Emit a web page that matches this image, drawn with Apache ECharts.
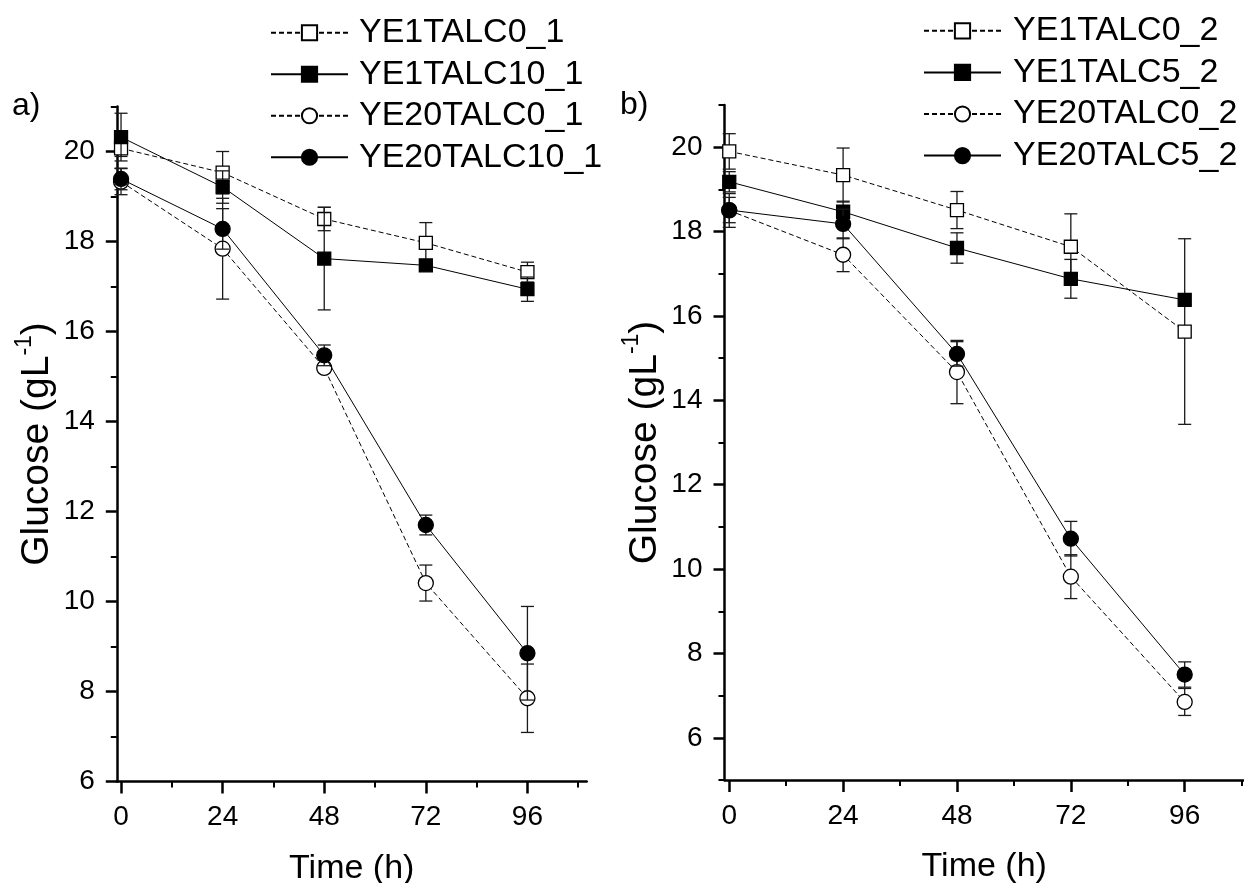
<!DOCTYPE html>
<html>
<head>
<meta charset="utf-8">
<script src="https://cdn.jsdelivr.net/npm/echarts@6/dist/echarts.min.js"></script>
<style>
html,body{margin:0;padding:0;background:#fff;}
#chart{width:1244px;height:883px;}
</style>
</head>
<body>
<div id="chart"></div>
<script>
// ---------- data ----------
const hours = [0, 24, 48, 72, 96];
const xTickLabels = [0, 24, 48, 72, 96];
const xMinorTicks = [12, 36, 60, 84, 108];

const namesA = ['YE1TALC0_1', 'YE1TALC10_1', 'YE20TALC0_1', 'YE20TALC10_1'];
const ye1talc0_1 = [20.07, 19.53, 18.50, 17.97, 17.32];
const ye1talc0_1Err = [0.18, 0.47, 0.26, 0.45, 0.22];
const ye1talc10_1 = [20.32, 19.21, 17.62, 17.47, 16.94];
const ye1talc10_1Err = [0.53, 0.36, 1.14, 0.10, 0.27];
const ye20talc0_1 = [19.33, 17.84, 15.19, 10.41, 7.85];
const ye20talc0_1Err = [0.29, 1.12, 0.10, 0.40, 0.76];
const ye20talc10_1 = [19.39, 18.28, 15.47, 11.70, 8.85];
const ye20talc10_1Err = [0.24, 0.45, 0.23, 0.22, 1.04];

const namesB = ['YE1TALC0_2', 'YE1TALC5_2', 'YE20TALC0_2', 'YE20TALC5_2'];
const ye1talc0_2 = [19.90, 19.34, 18.51, 17.64, 15.63];
const ye1talc0_2Err = [0.42, 0.64, 0.44, 0.78, 2.20];
const ye1talc5_2 = [19.18, 18.47, 17.61, 16.88, 16.38];
const ye1talc5_2Err = [0.24, 0.25, 0.36, 0.46, 0.10];
const ye20talc0_2 = [18.50, 17.45, 14.67, 9.82, 6.85];
const ye20talc0_2Err = [0.40, 0.40, 0.75, 0.52, 0.32];
const ye20talc5_2 = [18.51, 18.18, 15.10, 10.72, 7.50];
const ye20talc5_2Err = [0.30, 0.35, 0.29, 0.41, 0.30];

const yTickLabels = [6, 8, 10, 12, 14, 16, 18, 20];
const yMinorA = [7, 9, 11, 13, 15, 17, 19, 21];
const yMinorB = [5, 7, 9, 11, 13, 15, 17, 19, 21];

// ---------- styling ----------
const FONT = '"Liberation Sans", Arial, sans-serif';
const AXW = 2.5;

function majorX(gi, min, max) {
  return {
    type: 'value', gridIndex: gi, min: min, max: max, position: 'bottom',
    axisLine: {show: true, onZero: false, lineStyle: {color: '#000', width: AXW}},
    axisTick: {show: true, inside: false, length: 12, customValues: xTickLabels, lineStyle: {color: '#000', width: AXW}},
    axisLabel: {show: true, customValues: xTickLabels, margin: 22, fontSize: 28, color: '#000', fontFamily: FONT},
    splitLine: {show: false},
    name: 'Time (h)', nameLocation: 'middle', nameGap: 70,
    nameTextStyle: {fontSize: 34, color: '#000', fontFamily: FONT}
  };
}
function minorX(gi, min, max) {
  return {
    type: 'value', gridIndex: gi, min: min, max: max, position: 'bottom', offset: 0,
    axisLine: {show: false, onZero: false},
    axisTick: {show: true, inside: false, length: 6, customValues: xMinorTicks, lineStyle: {color: '#000', width: 2}},
    axisLabel: {show: false}, splitLine: {show: false}
  };
}
function majorY(gi, min, max) {
  return {
    type: 'value', gridIndex: gi, min: min, max: max, position: 'left',
    axisLine: {show: true, onZero: false, lineStyle: {color: '#000', width: AXW}},
    axisTick: {show: true, inside: false, length: 11, customValues: yTickLabels, lineStyle: {color: '#000', width: AXW}},
    axisLabel: {show: true, customValues: yTickLabels, margin: 22, fontSize: 28, color: '#000', fontFamily: FONT},
    splitLine: {show: false},
    name: '{a|Glucose (gL}{s|-1}{a|)}', nameLocation: 'middle', nameGap: 60,
    nameTextStyle: {
      color: '#000', fontFamily: FONT,
      rich: {
        a: {fontSize: 39, color: '#000', fontFamily: FONT, lineHeight: 44, verticalAlign: 'bottom'},
        s: {fontSize: 23, color: '#000', fontFamily: FONT, lineHeight: 23, verticalAlign: 'top'}
      }
    }
  };
}
function minorY(gi, min, max, vals) {
  return {
    type: 'value', gridIndex: gi, min: min, max: max, position: 'left', offset: 0,
    axisLine: {show: false, onZero: false},
    axisTick: {show: true, inside: false, length: 6, customValues: vals, lineStyle: {color: '#000', width: 2}},
    axisLabel: {show: false}, splitLine: {show: false}
  };
}

function errRender(params, api) {
  const x = api.value(0), lo = api.value(1), hi = api.value(2);
  const p1 = api.coord([x, lo]);
  const p2 = api.coord([x, hi]);
  const w = 6.5;
  const st = {stroke: '#1a1a1a', lineWidth: 1.3, fill: null};
  return {
    type: 'group',
    children: [
      {type: 'line', shape: {x1: p1[0], y1: p1[1], x2: p2[0], y2: p2[1]}, style: st},
      {type: 'line', shape: {x1: p1[0] - w, y1: p1[1], x2: p1[0] + w, y2: p1[1]}, style: st},
      {type: 'line', shape: {x1: p2[0] - w, y1: p2[1], x2: p2[0] + w, y2: p2[1]}, style: st}
    ]
  };
}

const seriesList = [];
function addSeries(name, vals, errs, xi, yi, open, shape, order) {
  const isRect = shape === 'rect';
  seriesList.push({
    type: 'custom', name: name + ' err', xAxisIndex: xi, yAxisIndex: yi,
    renderItem: errRender, encode: {x: 0, y: [1, 2]},
    data: hours.map((h, i) => [h, vals[i] - errs[i], vals[i] + errs[i]]),
    z: 10 + order * 2, silent: true, animation: false
  });
  seriesList.push({
    type: 'line', name: name, xAxisIndex: xi, yAxisIndex: yi,
    data: hours.map((h, i) => [h, vals[i]]),
    symbol: shape, symbolSize: isRect ? 13 : 15,
    itemStyle: {color: open ? '#fff' : '#000', borderColor: '#000', borderWidth: 1.3, opacity: 1},
    lineStyle: {color: '#000', width: 1, type: open ? [5, 3] : 'solid'},
    z: 11 + order * 2, silent: true, animation: false
  });
}
addSeries(namesA[0], ye1talc0_1, ye1talc0_1Err, 0, 0, true, 'rect', 0);
addSeries(namesA[1], ye1talc10_1, ye1talc10_1Err, 0, 0, false, 'rect', 1);
addSeries(namesA[2], ye20talc0_1, ye20talc0_1Err, 0, 0, true, 'circle', 2);
addSeries(namesA[3], ye20talc10_1, ye20talc10_1Err, 0, 0, false, 'circle', 3);
addSeries(namesB[0], ye1talc0_2, ye1talc0_2Err, 2, 2, true, 'rect', 0);
addSeries(namesB[1], ye1talc5_2, ye1talc5_2Err, 2, 2, false, 'rect', 1);
addSeries(namesB[2], ye20talc0_2, ye20talc0_2Err, 2, 2, true, 'circle', 2);
addSeries(namesB[3], ye20talc5_2, ye20talc5_2Err, 2, 2, false, 'circle', 3);

const option = {
  backgroundColor: '#fff',
  animation: false,
  textStyle: {fontFamily: FONT},
  title: [
    {text: 'a)', left: 12, top: 90, padding: 0, textStyle: {fontSize: 32, fontWeight: 'normal', color: '#000', fontFamily: FONT}},
    {text: 'b)', left: 620, top: 89, padding: 0, textStyle: {fontSize: 32, fontWeight: 'normal', color: '#000', fontFamily: FONT}}
  ],
  legend: [
    {data: namesA, orient: 'vertical', left: 270, top: 12, padding: 0, itemWidth: 77, itemHeight: 19, itemGap: 0,
     selectedMode: false,
     textStyle: {fontSize: 34, color: '#000', fontFamily: FONT, lineHeight: 41.5, padding: [0, 0, 0, 6]}},
    {data: namesB, orient: 'vertical', left: 923, top: 10, padding: 0, itemWidth: 77, itemHeight: 19, itemGap: 0,
     selectedMode: false,
     textStyle: {fontSize: 34, color: '#000', fontFamily: FONT, lineHeight: 41.6, padding: [0, 0, 0, 7]}}
  ],
  grid: [
    {left: 116.8, top: 106.5, width: 469.9, height: 675, containLabel: false, outerBoundsMode: 'none'},
    {left: 724.5, top: 105, width: 519.5, height: 675, containLabel: false, outerBoundsMode: 'none'}
  ],
  xAxis: [
    majorX(0, -1, 110), minorX(0, -1, 110),
    majorX(1, -1, 108.5), minorX(1, -1, 108.5)
  ],
  yAxis: [
    majorY(0, 6, 21), minorY(0, 6, 21, yMinorA),
    majorY(1, 5, 21), minorY(1, 5, 21, yMinorB)
  ],
  series: seriesList
};
const chart = echarts.init(document.getElementById('chart'), null, {renderer: 'canvas'});
chart.setOption(option);
</script>
</body>
</html>
